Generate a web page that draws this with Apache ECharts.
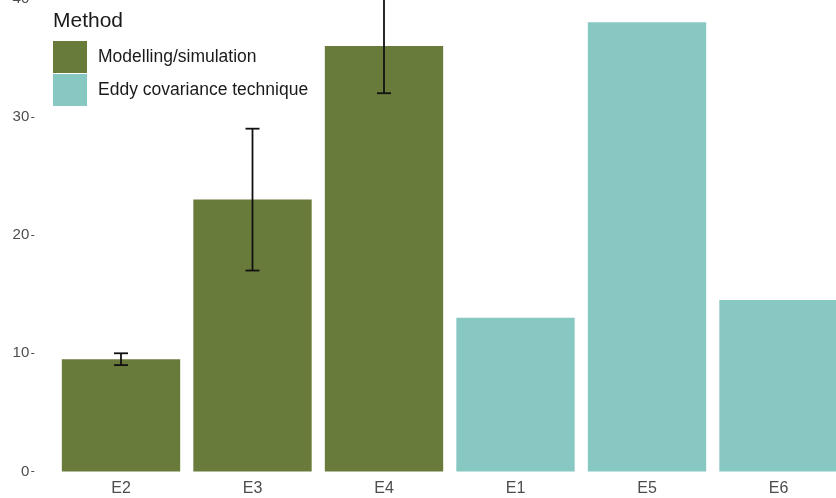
<!DOCTYPE html>
<html>
<head>
<meta charset="utf-8">
<script src="https://cdn.jsdelivr.net/npm/echarts@6/dist/echarts.min.js"></script>
<style>
  html, body { margin: 0; padding: 0; background: #ffffff; overflow: hidden; width: 836px; height: 498px; }
  /* The plot runs past the top and right edges of the page */
  #chart { position: absolute; left: 0; top: -25px; width: 850px; height: 523px; }
</style>
</head>
<body>
<div id="chart"></div>
<script>
// Sites in plotting order
const categories = ['E2', 'E3', 'E4', 'E1', 'E5', 'E6'];
// Mean values by method ('-' = no bar for that site)
const modellingValues = [9.5, 23, 36, '-', '-', '-'];
const eddyValues = ['-', '-', '-', 13, 38, 14.5];
// Error ranges (lower, upper) for the modelled sites
const errorLow = [9.0, 17, 32];
const errorHigh = [10.0, 29, 40];
const yTicks = [0, 10, 20, 30, 40];

const methodNames = ['Modelling/simulation', 'Eddy covariance technique'];
const colors = ['#697b3a', '#87c8c3'];

const errorData = errorLow.map((lo, i) => [i, lo, errorHigh[i]]);

const chart = echarts.init(document.getElementById('chart'), null, { renderer: 'canvas' });

chart.setOption({
  animation: false,
  backgroundColor: '#ffffff',
  title: {
    text: 'Method',
    left: 53,
    top: 36,
    padding: 0,
    textStyle: { fontFamily: 'Liberation Sans', fontSize: 21, fontWeight: 'normal', color: '#1a1a1a' }
  },
  legend: {
    orient: 'vertical',
    left: 53,
    top: 66,
    padding: 0,
    itemWidth: 34,
    itemHeight: 32,
    itemGap: 1,
    icon: 'rect',
    data: methodNames,
    textStyle: { fontFamily: 'Liberation Sans', fontSize: 17.5, color: '#1a1a1a', padding: [0, 0, 0, 6] }
  },
  grid: {
    left: 55.25,
    right: 5.75,
    top: 0,
    bottom: 26.5,
    containLabel: false
  },
  xAxis: {
    type: 'category',
    data: categories,
    axisLine: { show: false },
    axisTick: { show: false },
    axisLabel: { fontFamily: 'Liberation Sans', fontSize: 16, color: '#4d4d4d', margin: 9 }
  },
  yAxis: {
    type: 'value',
    min: 0,
    max: 42,
    interval: 10,
    offset: 21,
    axisLine: { show: false },
    axisTick: { show: true, length: 3, lineStyle: { color: '#4d4d4d', width: 1 } },
    axisLabel: {
      fontFamily: 'Liberation Sans', fontSize: 15, color: '#4d4d4d', margin: 5,
      formatter: v => (yTicks.indexOf(v) >= 0 ? String(v) : '')
    },
    splitLine: { show: false }
  },
  series: [
    {
      name: methodNames[0],
      type: 'bar',
      data: modellingValues,
      barWidth: '90%',
      barGap: '-100%',
      itemStyle: { color: colors[0] }
    },
    {
      name: methodNames[1],
      type: 'bar',
      data: eddyValues,
      barWidth: '90%',
      barGap: '-100%',
      itemStyle: { color: colors[1] }
    },
    {
      name: 'error',
      type: 'custom',
      z: 10,
      data: errorData,
      renderItem: function (params, api) {
        const x = api.value(0);
        const lo = api.coord([x, api.value(1)]);
        const hi = api.coord([x, api.value(2)]);
        const half = 7;
        const style = { stroke: '#111111', lineWidth: 1.8 };
        return {
          type: 'group',
          children: [
            { type: 'line', shape: { x1: lo[0], y1: lo[1], x2: hi[0], y2: hi[1] }, style: style },
            { type: 'line', shape: { x1: lo[0] - half, y1: lo[1], x2: lo[0] + half, y2: lo[1] }, style: style },
            { type: 'line', shape: { x1: hi[0] - half, y1: hi[1], x2: hi[0] + half, y2: hi[1] }, style: style }
          ]
        };
      }
    }
  ]
});
</script>
</body>
</html>
